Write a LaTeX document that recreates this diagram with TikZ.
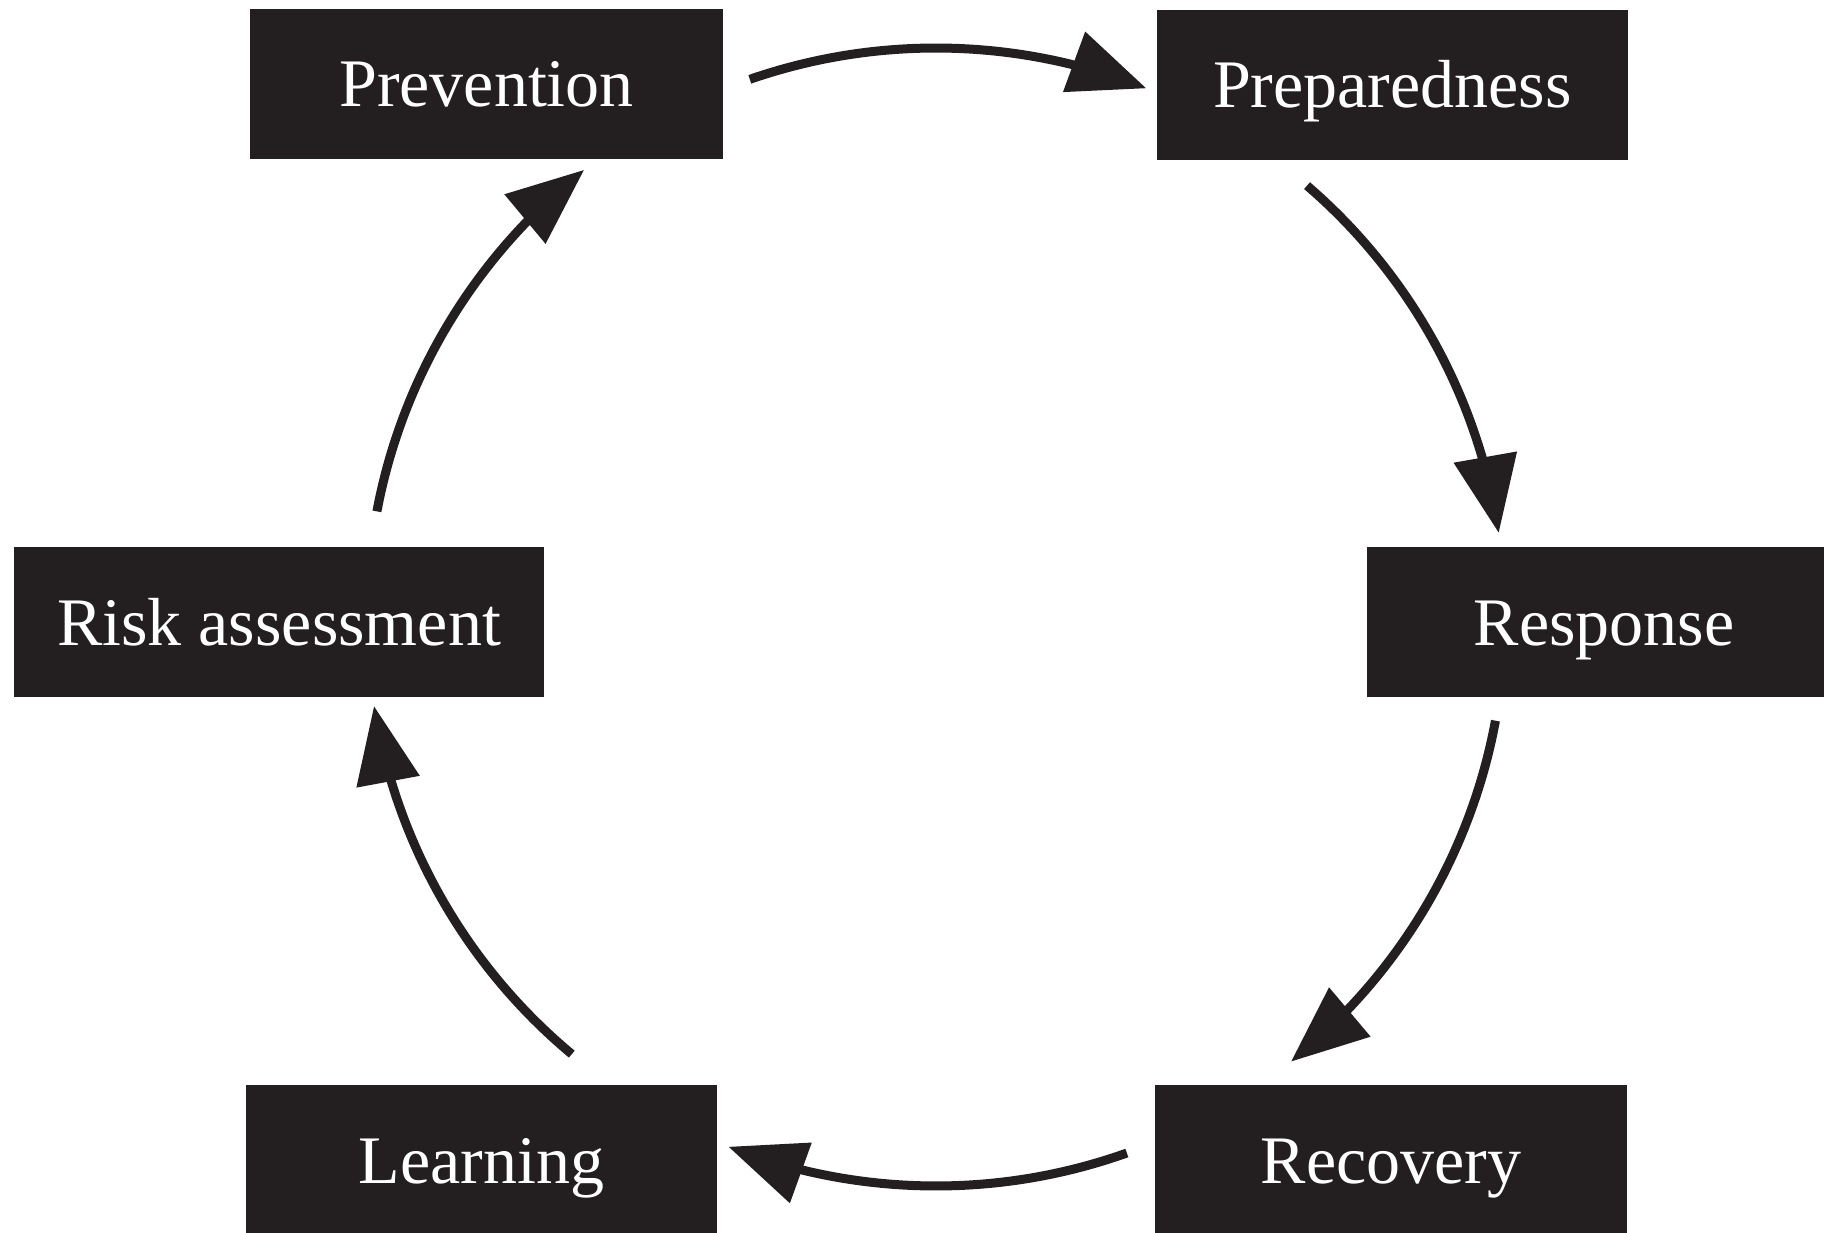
\documentclass[tikz,border=0pt]{standalone}
\usepackage{fontspec}
\setmainfont{Liberation Serif}
\usetikzlibrary{arrows.meta,bending}
\definecolor{boxfill}{HTML}{231F20}
\begin{document}
\begin{tikzpicture}[x=1pt,y=1pt,
  stage/.style={fill=boxfill, text=white, inner sep=0pt, minimum height=150pt,
    text height=46pt, text depth=0pt, font=\fontsize{68}{80}\selectfont},
  cyc/.style={draw=boxfill, line width=9pt, -{Triangle[length=77pt,width=62pt,flex=0.4]}}]
\useasboundingbox (0,0) rectangle (1824,-1233);
\fill[white] (0,0) rectangle (1824,-1233);
% stages
\node[stage, minimum width=473pt] (prev) at (486.5,-84) {Prevention};
\node[stage, minimum width=471pt] (prep) at (1392.5,-85) {Preparedness};
\node[stage, minimum width=530pt] (risk) at (279,-622) {Risk assessment};
\node[stage, minimum width=474pt] (resp) at (1604,-622) {Response};
\node[stage, minimum width=471pt] (learn) at (481.5,-1160) {Learning};
\node[stage, minimum width=472pt] (recov) at (1391,-1160) {Recovery};
% cycle centre and arc start points
\coordinate (C) at (936,-617);
\path (C) ++(109.1:569) coordinate (s1);
\path (C) ++(49.3:569) coordinate (s2);
\path (C) ++(-10.5:569) coordinate (s3);
\path (C) ++(-70.4:569) coordinate (s4);
\path (C) ++(-129.8:569) coordinate (s5);
\path (C) ++(169.3:569) coordinate (s6);
% connectors
\draw[cyc] (s1) arc[start angle=109.1, end angle=68.3, radius=569];
\draw[cyc] (s2) arc[start angle=49.3, end angle=8.5, radius=569];
\draw[cyc] (s3) arc[start angle=-10.5, end angle=-51.4, radius=569];
\draw[cyc] (s4) arc[start angle=-70.4, end angle=-111.4, radius=569];
\draw[cyc] (s5) arc[start angle=-129.8, end angle=-171, radius=569];
\draw[cyc] (s6) arc[start angle=169.3, end angle=128.2, radius=569];
\end{tikzpicture}
\end{document}
